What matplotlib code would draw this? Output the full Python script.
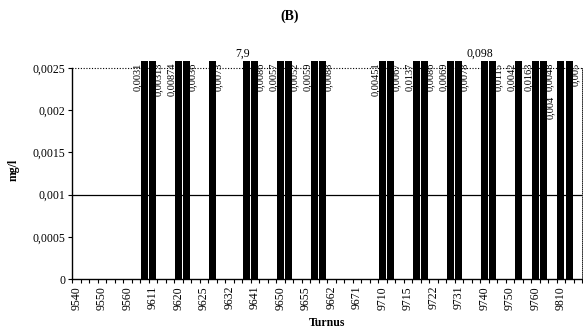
import matplotlib
matplotlib.use("Agg")
import matplotlib.pyplot as plt
import numpy as np

# ---- data ----
tick_labels = ["9540", "9550", "9560", "9611", "9620", "9625", "9632", "9641",
               "9650", "9655", "9662", "9671", "9710", "9715", "9722", "9731",
               "9740", "9750", "9760", "9810"]
n_categories = 60          # one tick label every 3rd category
bar_index = [8, 9, 12, 13, 16, 20, 21, 24, 25, 28, 29, 36, 37, 40, 41,
             44, 45, 48, 49, 52, 54, 55, 57, 58]
bar_values = [0.0031, 0.00313, 0.00874, 0.0036, 0.0073, 7.9, 0.0086, 0.0057,
              0.0052, 0.0059, 0.0088, 0.00451, 0.0067, 0.0137, 0.0086,
              0.0069, 0.0078, 0.098, 0.0115, 0.0042, 0.0163, 0.0048, 0.004,
              0.005]
limit_value = 0.001
y_ticks = [0, 0.0005, 0.001, 0.0015, 0.002, 0.0025]
y_tick_labels = ["0", "0,0005", "0,001", "0,0015", "0,002", "0,0025"]

plt.rcParams['font.family'] = ['Liberation Serif', 'DejaVu Serif']

W, H = 583, 334
fig = plt.figure(figsize=(W / 100, H / 100), dpi=100)
ax_left, ax_right = 72 / W, 582 / W
ax_bottom = 1 - 279 / H
ax_top = 1 - 61 / H
ax = fig.add_axes([ax_left, ax_bottom, ax_right - ax_left, ax_top - ax_bottom])

ymax_axis = 0.0025
ytop = ymax_axis * 1.033
values = np.zeros(n_categories)
values[bar_index] = bar_values
shown = np.minimum(values, ytop)

x = np.arange(n_categories)
ax.bar(x, shown, width=0.85, color='black', edgecolor='none')
ax.set_xlim(-0.5, n_categories - 0.5)
ax.set_ylim(0, ytop)

# limit line and dotted top line
ax.axhline(limit_value, color='black', lw=0.9)
ax.axhline(ymax_axis, color='black', lw=0.8, ls=(0, (1, 1.5)))

# spines
ax.spines['top'].set_visible(False)
ax.spines['right'].set_linestyle((0, (1, 1.5)))
ax.spines['right'].set_linewidth(0.6)
ax.spines['right'].set_bounds(0, ymax_axis)
ax.spines['left'].set_bounds(0, ymax_axis)
ax.spines['left'].set_linewidth(1.0)
ax.spines['bottom'].set_linewidth(1.0)

# y axis
ax.set_yticks(y_ticks)
ax.set_yticklabels(y_tick_labels, fontsize=8.5)
ax.tick_params(axis='y', direction='out', length=3, width=0.8, pad=2)

# x axis: labels every 3rd category, small ticks at category boundaries
label_pos = np.arange(len(tick_labels)) * 3
ax.set_xticks(label_pos)
ax.set_xticklabels(tick_labels, rotation=90, fontsize=8.5)
ax.tick_params(axis='x', which='major', length=0, pad=5)
ax.set_xticks(np.arange(n_categories + 1) - 0.5, minor=True)
ax.tick_params(axis='x', which='minor', direction='out', length=3, width=0.8)

ax.set_xlabel("Turnus", fontsize=8.5, fontweight='bold', labelpad=5)
ax.set_ylabel("mg/l", fontsize=8.5, fontweight='bold', labelpad=9)

# value labels
bar_set = set(bar_index)
prev_x = -10
for i, v in zip(bar_index, bar_values):
    txt = f"{v:g}".replace('.', ',')
    if v >= 0.05:
        ax.annotate(txt, (i, ytop), xytext=(-3, 1), textcoords='offset points',
                    ha='center', va='bottom', fontsize=8.5, annotation_clip=False)
        prev_x = i
        continue
    left = ((i + 1) in bar_set) or ((i + 2) in bar_set and (i - 1) not in bar_set)
    xt = i - 0.8 if left else i + 0.7
    yt = ymax_axis * 1.025
    if xt - prev_x < 1.0:          # crowded: pushed down below the neighbour
        xt = prev_x + 0.1
        yt = ymax_axis * 0.87
    ax.text(xt, yt, txt, rotation=90, ha='center', va='top', fontsize=7.5,
            clip_on=False)
    prev_x = xt

fig.text(0.497, 1 - 16 / H, "(B)", ha='center', va='center', fontsize=10,
         fontweight='bold')

fig.savefig("out.png", dpi=100)
